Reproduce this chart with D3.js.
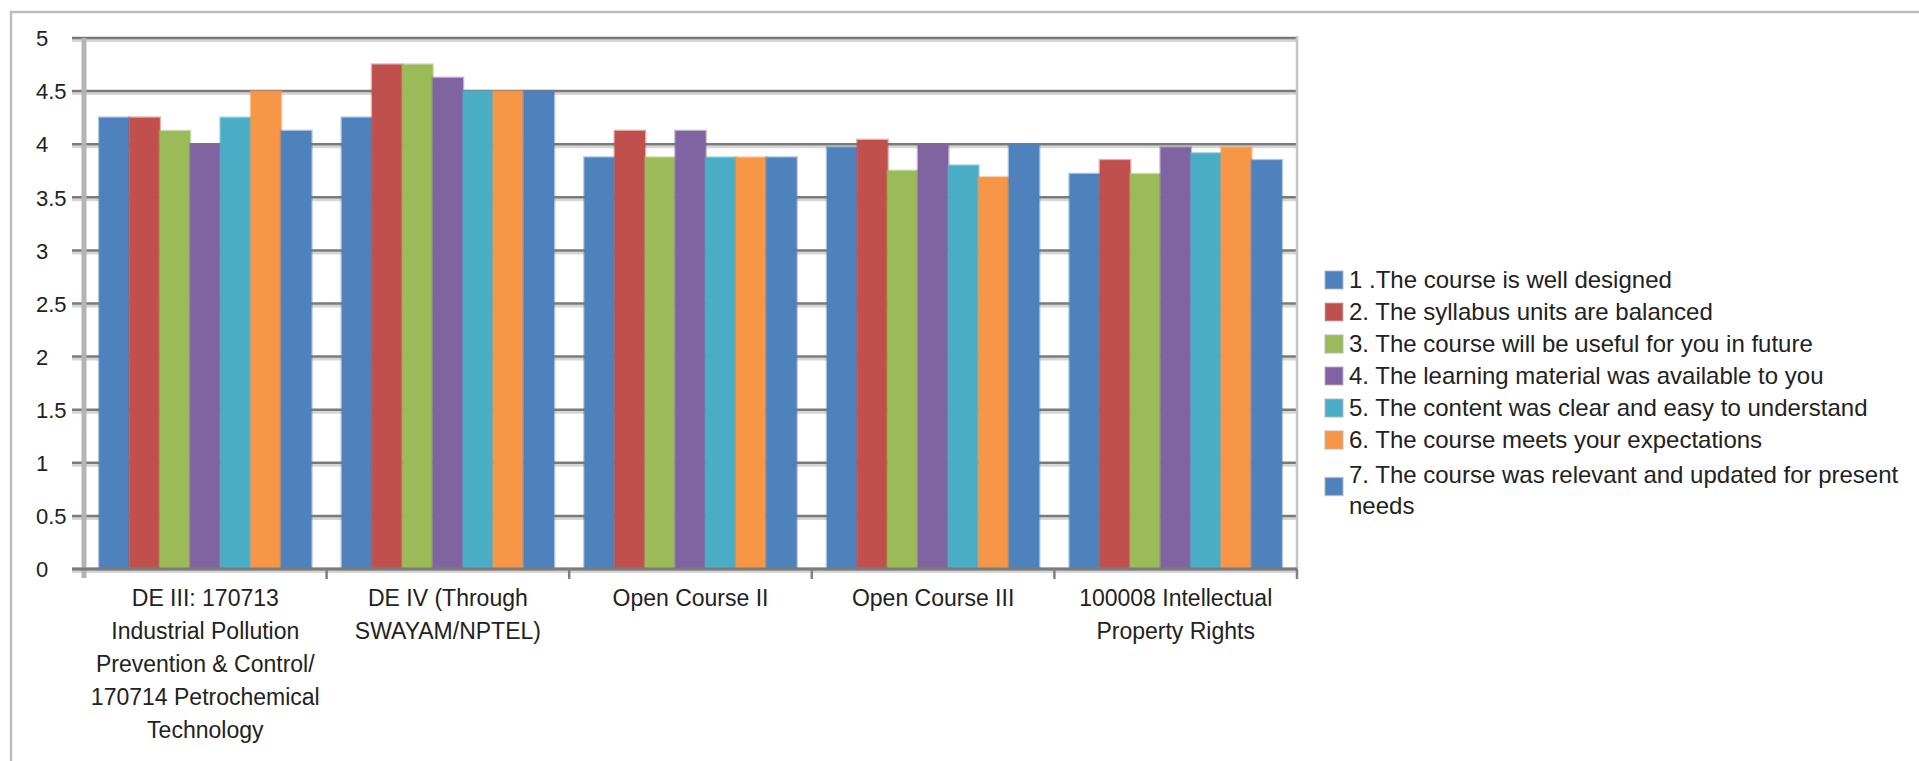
<!DOCTYPE html>
<html>
<head>
<meta charset="utf-8">
<script src="https://cdn.jsdelivr.net/npm/d3@7"></script>
<style>
  body { margin: 0; background: #fff; }
  svg text { font-family: "Liberation Sans", Arial, sans-serif; fill: #222; }
</style>
</head>
<body>
<svg id="chart" width="1919" height="761"></svg>
<script>
// categories (x axis), with the line breaks used on the tick labels
var categories = ['DE III', 'DE IV', 'Open Course II', 'Open Course III', '100008 IPR'];
var categoryLines = [
    ['DE III: 170713', 'Industrial Pollution', 'Prevention & Control/', '170714 Petrochemical', 'Technology'],
    ['DE IV (Through', 'SWAYAM/NPTEL)'],
    ['Open Course II'],
    ['Open Course III'],
    ['100008 Intellectual', 'Property Rights']
];

var seriesNames = [
    '1 .The course is well designed',
    '2. The syllabus units are balanced',
    '3. The course will be useful for you in future',
    '4. The learning material was available to you',
    '5. The content was clear and easy to understand',
    '6. The course meets your expectations',
    '7. The course was relevant and updated for present needs'
];
var seriesColors = ['#4f81bd', '#c0504d', '#9bbb59', '#8064a2', '#4bacc6', '#f79646', '#4f81bd'];

// one array per question, one value per category
var q1 = [4.25, 4.25, 3.875, 3.97, 3.72];
var q2 = [4.25, 4.75, 4.125, 4.04, 3.85];
var q3 = [4.125, 4.75, 3.875, 3.75, 3.72];
var q4 = [4.0, 4.625, 4.125, 4.0, 3.97];
var q5 = [4.25, 4.5, 3.875, 3.80, 3.915];
var q6 = [4.5, 4.5, 3.875, 3.69, 3.97];
var q7 = [4.125, 4.5, 3.875, 4.0, 3.85];
var seriesValues = [q1, q2, q3, q4, q5, q6, q7];

var yTicks = [0, 0.5, 1, 1.5, 2, 2.5, 3, 3.5, 4, 4.5, 5];

var svg = d3.select('#chart');

// outer chart frame
svg.append('rect')
    .attr('x', 11).attr('y', 12)
    .attr('width', 1930).attr('height', 770)
    .attr('fill', 'none')
    .attr('stroke', '#bcbcbc')
    .attr('stroke-width', 2.5);

var plotLeft = 84, plotRight = 1297, plotTop = 38, plotBottom = 569;

var x0 = d3.scaleBand().domain(categories).range([plotLeft, plotRight]).padding(0);
var x1 = d3.scaleBand().domain(d3.range(seriesNames.length))
    .range([0, x0.bandwidth()]).paddingInner(0).paddingOuter(0.5);
var y = d3.scaleLinear().domain([0, 5]).range([plotBottom, plotTop]);

//Draw gridlines
var grid = svg.append('g').attr('class', 'grid');
grid.selectAll('.grid-halo').data(yTicks)
    .enter().append('line')
    .attr('x1', plotLeft - 12).attr('x2', plotRight)
    .attr('y1', function(d) { return y(d) + 2.5; })
    .attr('y2', function(d) { return y(d) + 2.5; })
    .attr('stroke', '#d6d6d6').attr('stroke-width', 3);
grid.selectAll('.grid-line').data(yTicks)
    .enter().append('line')
    .attr('x1', plotLeft - 12).attr('x2', plotRight)
    .attr('y1', function(d) { return y(d); })
    .attr('y2', function(d) { return y(d); })
    .attr('stroke', '#7a7a7a').attr('stroke-width', 2.5);

// plot area right border
svg.append('line')
    .attr('x1', plotRight).attr('x2', plotRight)
    .attr('y1', plotTop - 2).attr('y2', plotBottom)
    .attr('stroke', '#c4c4c4').attr('stroke-width', 2.5);

//Bars
var rows = categories.map(function(c, i) {
    return { cat: c, values: seriesValues.map(function(s) { return s[i]; }) };
});
var groups = svg.append('g').attr('class', 'bars')
    .selectAll('g').data(rows)
    .enter().append('g')
    .attr('transform', function(d) { return 'translate(' + x0(d.cat) + ',0)'; });
groups.selectAll('rect')
    .data(function(d) { return d.values.map(function(v, j) { return { j: j, v: v }; }); })
    .enter().append('rect')
    .attr('x', function(d) { return x1(d.j); })
    .attr('y', function(d) { return y(d.v); })
    .attr('width', x1.bandwidth())
    .attr('height', function(d) { return plotBottom - y(d.v); })
    .attr('fill', function(d) { return seriesColors[d.j]; })
    .attr('stroke', function(d) { return seriesColors[d.j]; })
    .attr('stroke-opacity', 0.45)
    .attr('stroke-width', 2.5);

// y axis
var yAxis = d3.axisLeft(y).tickValues(yTicks).tickSize(0).tickFormat(function(d) { return String(d); });
var yg = svg.append('g').attr('transform', 'translate(' + plotLeft + ',0)').call(yAxis);
yg.select('.domain').remove();
yg.selectAll('text')
    .attr('x', 36 - plotLeft)
    .attr('text-anchor', 'start')
    .attr('dy', '0.35em')
    .style('font-size', '22px');
svg.append('line')
    .attr('x1', plotLeft).attr('x2', plotLeft)
    .attr('y1', plotTop).attr('y2', plotBottom + 9)
    .attr('stroke', '#b4b4b4').attr('stroke-width', 5);

// x axis
svg.append('line')
    .attr('x1', plotLeft - 12).attr('x2', plotRight)
    .attr('y1', plotBottom).attr('y2', plotBottom)
    .attr('stroke', '#7c7c7c').attr('stroke-width', 3);
var boundaries = categories.map(function(c) { return x0(c); }).concat([plotRight]);
svg.selectAll('.x-tick').data(boundaries.slice(1))
    .enter().append('line')
    .attr('x1', function(d) { return d; }).attr('x2', function(d) { return d; })
    .attr('y1', plotBottom).attr('y2', plotBottom + 10)
    .attr('stroke', '#808080').attr('stroke-width', 2.5);

var xLabels = svg.append('g').attr('class', 'x-labels')
    .selectAll('text').data(categories)
    .enter().append('text')
    .attr('text-anchor', 'middle')
    .style('font-size', '23px');
xLabels.each(function(c, i) {
    var t = d3.select(this);
    categoryLines[i].forEach(function(line, k) {
        t.append('tspan')
            .attr('x', x0(c) + x0.bandwidth() / 2)
            .attr('y', 606 + k * 33)
            .text(line);
    });
});

//Legend
var legendX = 1325, textX = 1349, maxWidth = 575;
var legend = svg.append('g').attr('class', 'legend');
seriesNames.forEach(function(name, i) {
    var cy = 280 + i * 32 + (i === 6 ? 3 : 0);
    var t = legend.append('text').style('font-size', '24px');
    var words = name.split(' '), line = [], lines = [];
    var probe = t.append('tspan');
    words.forEach(function(w) {
        line.push(w);
        probe.text(line.join(' '));
        if (probe.node().getComputedTextLength() > maxWidth && line.length > 1) {
            line.pop();
            lines.push(line.join(' '));
            line = [w];
        }
    });
    lines.push(line.join(' '));
    probe.remove();
    lines.forEach(function(l, k) {
        t.append('tspan')
            .attr('x', textX)
            .attr('y', cy + k * 31)
            .attr('dy', '0.35em')
            .text(l);
    });
    var boxY = cy + (lines.length - 1) * 31 / 2 - 9 - (lines.length > 1 ? 4 : 0);
    legend.append('rect')
        .attr('x', legendX).attr('y', boxY)
        .attr('width', 18).attr('height', 18)
        .attr('fill', seriesColors[i])
        .attr('stroke', '#b8b8b8').attr('stroke-opacity', 0.6)
        .attr('stroke-width', 1.5);
});
</script>
</body>
</html>
